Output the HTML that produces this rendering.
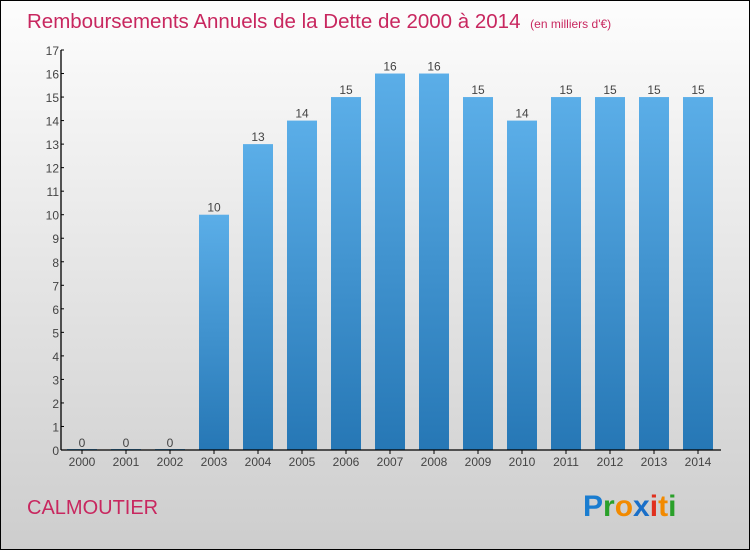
<!DOCTYPE html>
<html><head><meta charset="utf-8"><style>
body{margin:0;width:750px;height:550px;overflow:hidden;font-family:"Liberation Sans",sans-serif}
</style></head><body>
<svg width="750" height="550" xmlns="http://www.w3.org/2000/svg">
<defs>
<linearGradient id="bg" x1="0" y1="0" x2="0" y2="1"><stop offset="0" stop-color="#fdfdfd"/><stop offset="1" stop-color="#cdcdcd"/></linearGradient>
<linearGradient id="bar" x1="0" y1="0" x2="0" y2="1"><stop offset="0" stop-color="#5baee8"/><stop offset="1" stop-color="#2677b5"/></linearGradient>
</defs>
<rect x="0.5" y="0.5" width="749" height="549" fill="url(#bg)" stroke="#000"/>
<text x="27" y="28" font-size="20.5" fill="#c8275f">Remboursements Annuels de la Dette de 2000 à 2014 <tspan font-size="12" dx="4">(en milliers d'€)</tspan></text>
<g id="plot"></g>
<text x="27" y="514" font-size="20" fill="#c8275f">CALMOUTIER</text>
<g font-size="30" font-weight="bold" font-family="Liberation Sans, sans-serif">
<text x="583" y="516"><tspan fill="#1a7dd0">P</tspan><tspan fill="#2aa02a">r</tspan><tspan fill="#f28a00">o</tspan><tspan fill="#1a6fc8">x</tspan><tspan fill="#e0301e">i</tspan><tspan fill="#f28a00">t</tspan><tspan fill="#2aa02a">i</tspan></text>
</g>
</svg>
<script>
const years=["2000","2001","2002","2003","2004","2005","2006","2007","2008","2009","2010","2011","2012","2013","2014"];
const values=[0,0,0,10,13,14,15,16,16,15,14,15,15,15,15];
const yTicks=[0,1,2,3,4,5,6,7,8,9,10,11,12,13,14,15,16,17];
const NS="http://www.w3.org/2000/svg";
const g=document.getElementById('plot');
const y0=450,yTop=50,yMax=17,x0=61;
const ys=v=>y0-(v/yMax)*(y0-yTop);
const xs=i=>82+i*44;
function mk(t,a,p){const e=document.createElementNS(NS,t);for(const k in a)e.setAttribute(k,a[k]);(p||g).appendChild(e);return e;}
values.forEach((v,i)=>{
 const r=mk('rect',{x:xs(i)-15,y:ys(v)-(v===0?1:0),width:30,height:Math.max(y0-ys(v),1),fill:'url(#bar)'});
 
 
 const t=mk('text',{x:xs(i),y:ys(v)-3,'font-size':12,'text-anchor':'middle',fill:'#444'});t.textContent=v;
 
 
 const xl=mk('text',{x:xs(i),y:466,'font-size':12,'text-anchor':'middle',fill:'#444'});xl.textContent=years[i];
 
 
 mk('line',{x1:xs(i),x2:xs(i),y1:y0,y2:y0+4,stroke:'#000'});
});
yTicks.forEach(v=>{
 mk('line',{x1:x0,x2:x0+3,y1:ys(v),y2:ys(v),stroke:'#000'});
 const t=mk('text',{x:x0-2,y:ys(v)+5,'font-size':12,'text-anchor':'end',fill:'#444'});t.textContent=v;
 
 
});
const ya=mk('line',{x1:x0,x2:x0,y1:yTop,y2:y0,stroke:'#000','stroke-width':1.3});


const xa=mk('line',{x1:x0,x2:721,y1:y0,y2:y0,stroke:'#000','stroke-width':1.3});


</script>
</body></html>
